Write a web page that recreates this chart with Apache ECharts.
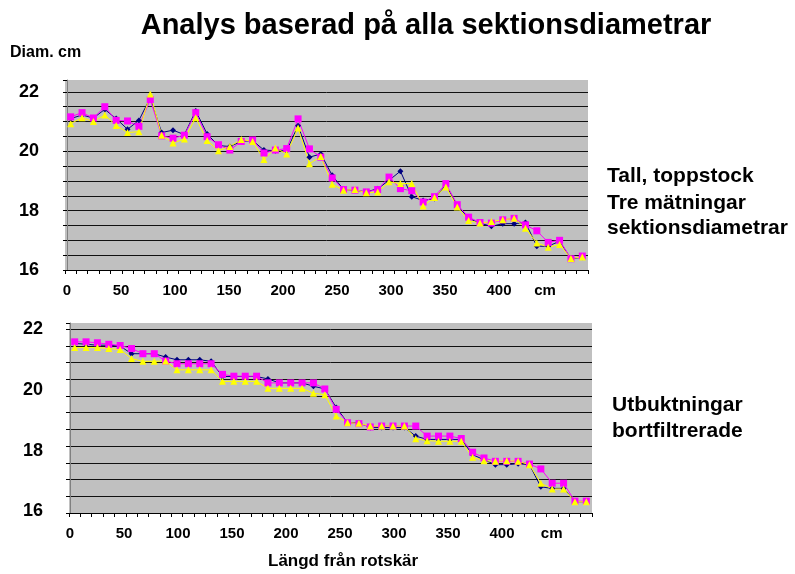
<!DOCTYPE html>
<html>
<head>
<meta charset="utf-8">
<script src="https://cdn.jsdelivr.net/npm/echarts@6/dist/echarts.min.js"></script>
<style>
  html, body { margin: 0; padding: 0; background: #fff; }
  #chart { width: 795px; height: 574px; }
</style>
</head>
<body>
<div id="chart"></div>
<script>
// sektioner (cm från rotskär)
const sections = ['0', '10', '20', '30', '40', '50', '60', '70', '80', '90',
  '100', '110', '120', '130', '140', '150', '160', '170', '180', '190',
  '200', '210', '220', '230', '240', '250', '260', '270', '280', '290',
  '300', '310', '320', '330', '340', '350', '360', '370', '380', '390',
  '400', '410', '420', '430', '440', '450']
const xLabels = [0, 50, 100, 150, 200, 250, 300, 350, 400]
const yLabels = [16, 18, 20, 22]

// övre diagrammet: tre mätningar
const topNavy = [21.1, 21.22, 21.12, 21.41, 21.1, 20.74, 21.04, 21.8, 20.63, 20.71,
  20.56, 21.36, 20.58, 20.19, 20.16, 20.33, 20.36, 20.04, 20.02, 20.02,
  20.86, 19.8, 19.91, 19.19, 18.71, 18.69, 18.63, 18.74, 19.02, 19.33,
  18.47, 18.34, 18.41, 18.86, 18.18, 17.74, 17.58, 17.47, 17.56, 17.56,
  17.6, 16.8, 16.8, 16.97, 16.38, 16.43]
const topMagenta = [21.16, 21.3, 21.12, 21.5, 21.04, 21.02, 20.84, 21.74, 20.52, 20.44,
  20.54, 21.3, 20.49, 20.22, 20.04, 20.33, 20.38, 19.94, 20.04, 20.09,
  21.09, 20.08, 19.8, 19.1, 18.71, 18.69, 18.63, 18.71, 19.13, 18.74,
  18.67, 18.29, 18.47, 18.91, 18.2, 17.78, 17.6, 17.58, 17.69, 17.74,
  17.52, 17.32, 16.93, 17.0, 16.38, 16.47]
const topYellow = [20.93, 21.13, 21.0, 21.22, 20.87, 20.63, 20.66, 21.93, 20.54, 20.28,
  20.41, 21.13, 20.36, 20.02, 20.16, 20.4, 20.33, 19.72, 20.11, 19.91,
  20.78, 19.58, 19.82, 18.89, 18.69, 18.71, 18.6, 18.63, 18.97, 18.91,
  18.91, 18.16, 18.44, 18.8, 18.12, 17.67, 17.58, 17.63, 17.69, 17.74,
  17.41, 16.91, 16.77, 16.86, 16.39, 16.44]

// nedre diagrammet: utbuktningar bortfiltrerade
const botNavy = [21.53, 21.5, 21.47, 21.47, 21.44, 21.19, 21.19, 21.19, 21.08, 20.99,
  20.99, 20.99, 20.94, 20.44, 20.44, 20.44, 20.44, 20.36, 20.23, 20.23,
  20.23, 20.12, 20.03, 19.42, 18.92, 18.92, 18.76, 18.76, 18.76, 18.76,
  18.48, 18.37, 18.37, 18.37, 18.37, 17.87, 17.7, 17.54, 17.54, 17.57,
  17.54, 16.81, 16.76, 16.76, 16.32, 16.32]
const botMagenta = [21.58, 21.58, 21.55, 21.5, 21.46, 21.36, 21.19, 21.19, 20.95, 20.86,
  20.86, 20.86, 20.86, 20.51, 20.45, 20.45, 20.45, 20.23, 20.23, 20.23,
  20.23, 20.23, 20.03, 19.36, 18.92, 18.89, 18.78, 18.81, 18.81, 18.81,
  18.81, 18.48, 18.48, 18.48, 18.4, 17.95, 17.76, 17.65, 17.65, 17.65,
  17.56, 17.4, 16.93, 16.93, 16.34, 16.34]
const botYellow = [21.39, 21.39, 21.39, 21.36, 21.33, 21.03, 20.94, 20.94, 20.95, 20.66,
  20.66, 20.66, 20.66, 20.28, 20.28, 20.28, 20.28, 20.05, 20.05, 20.05,
  20.05, 19.89, 19.84, 19.14, 18.92, 18.9, 18.81, 18.81, 18.81, 18.81,
  18.39, 18.33, 18.31, 18.31, 18.31, 17.78, 17.67, 17.65, 17.67, 17.65,
  17.54, 16.93, 16.74, 16.74, 16.32, 16.32]

const FONT = 'Liberation Sans, Arial, sans-serif'
const chart = echarts.init(document.getElementById('chart'), null, { renderer: 'canvas' })

const catAxis = (gridIndex) => ({
  type: 'category',
  gridIndex: gridIndex,
  data: sections,
  boundaryGap: true,
  axisLine: { lineStyle: { color: '#000', width: 1 } },
  axisTick: { show: true, interval: 0, length: 4, lineStyle: { color: '#000' } },
  axisLabel: { show: false },
  splitLine: { show: false }
})

// separat värdeaxel bara för etiketterna 0..400 cm
const labelAxis = (gridIndex, min, max, cmPos) => ({
  type: 'value',
  gridIndex: gridIndex,
  position: 'bottom',
  min: min,
  max: max,
  axisLine: { show: false },
  axisTick: { show: false },
  splitLine: { show: false },
  axisLabel: {
    customValues: xLabels.concat([cmPos]),
    formatter: (v) => (v === cmPos ? 'cm' : String(v)),
    color: '#000',
    fontFamily: FONT,
    fontWeight: 'bold',
    fontSize: 15,
    margin: 13
  }
})

const valAxis = (gridIndex, min, max, interval) => ({
  type: 'value',
  gridIndex: gridIndex,
  min: min,
  max: max,
  interval: interval,
  axisLine: { show: true, lineStyle: { color: '#808080', width: 1 } },
  axisTick: { show: true, length: 4, lineStyle: { color: '#000' } },
  splitLine: { show: true, showMaxLine: false, showMinLine: false, lineStyle: { color: '#111', width: 1 } },
  axisLabel: {
    customValues: yLabels,
    color: '#000',
    fontFamily: FONT,
    fontWeight: 'bold',
    fontSize: 18,
    margin: 26,
    padding: [0, 0, 8, 0]
  }
})

const mkSeries = (name, data, color, symbol, size, xi, yi) => ({
  name: name,
  type: 'line',
  xAxisIndex: xi,
  yAxisIndex: yi,
  data: data,
  symbol: symbol,
  symbolSize: size,
  showAllSymbol: true,
  itemStyle: { color: color },
  lineStyle: { color: color, width: 1 },
  animation: false
})

const txt = (x, y, text, size) => ({
  type: 'text',
  left: x,
  top: y,
  style: { text: text, fill: '#000', font: 'bold ' + size + 'px ' + FONT }
})

const option = {
  backgroundColor: '#fff',
  animation: false,
  title: {
    text: 'Analys baserad på alla sektionsdiametrar',
    left: 421,
    top: 6,
    textAlign: 'center',
    textStyle: { fontFamily: FONT, fontWeight: 'bold', fontSize: 29, color: '#000' }
  },
  grid: [
    { left: 65, top: 80, width: 523, height: 190, show: true, backgroundColor: '#C0C0C0', borderWidth: 0 },
    { left: 69, top: 323, width: 523, height: 190, show: true, backgroundColor: '#C0C0C0', borderWidth: 0 }
  ],
  xAxis: [
    catAxis(0),
    labelAxis(0, -1.85, 482.4, 442.6),
    catAxis(1),
    labelAxis(1, -0.93, 483.3, 446)
  ],
  yAxis: [
    valAxis(0, 16, 22.4, 0.5),
    valAxis(1, 15.95, 22.2, 0.55)
  ],
  series: [
    mkSeries('Mätning 1', topNavy, '#000080', 'diamond', 6, 0, 0),
    mkSeries('Mätning 2', topMagenta, '#FF00FF', 'rect', 7, 0, 0),
    mkSeries('Mätning 3', topYellow, '#FFFF00', 'triangle', 7, 0, 0),
    mkSeries('Mätning 1', botNavy, '#000080', 'diamond', 6, 2, 1),
    mkSeries('Mätning 2', botMagenta, '#FF00FF', 'rect', 7, 2, 1),
    mkSeries('Mätning 3', botYellow, '#FFFF00', 'triangle', 7, 2, 1)
  ],
  graphic: [
    txt(10, 45, 'Diam. cm', 16),
    txt(607, 166, 'Tall, toppstock', 21),
    txt(607, 193, 'Tre mätningar', 21),
    txt(607, 218, 'sektionsdiametrar', 21),
    txt(612, 395, 'Utbuktningar', 21),
    txt(612, 421, 'bortfiltrerade', 21),
    {
      type: 'text',
      left: 268,
      top: 553,
      style: { text: 'Längd från rotskär', fill: '#000', font: 'bold 17px ' + FONT }
    }
  ]
}

chart.setOption(option)
</script>
</body>
</html>
